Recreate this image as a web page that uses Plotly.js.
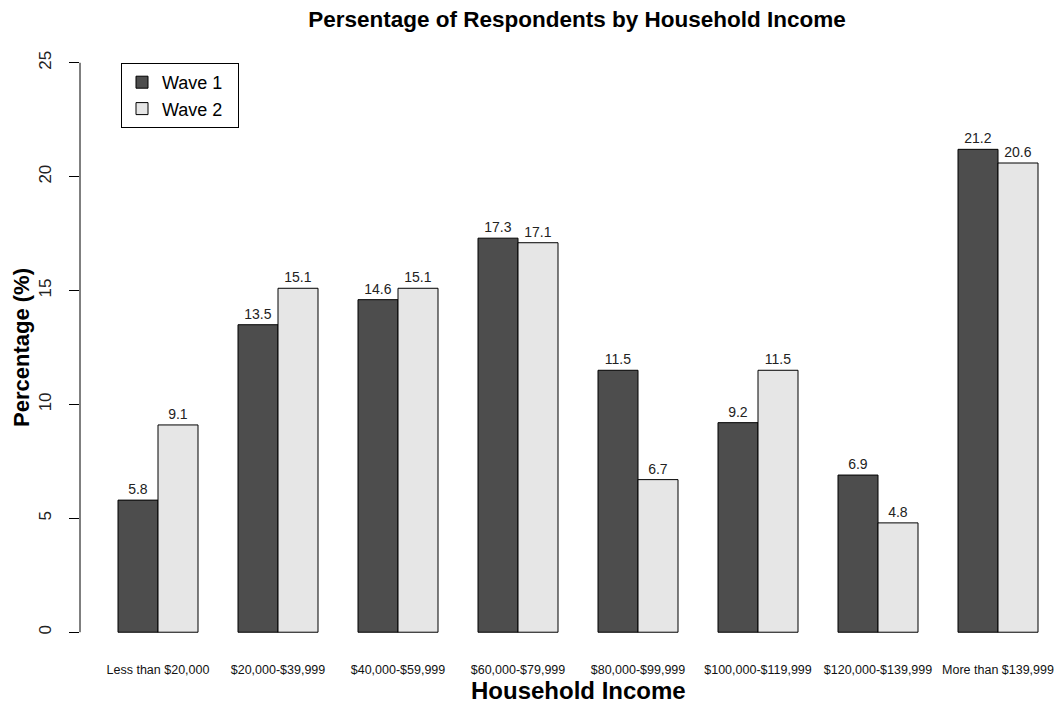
<!DOCTYPE html>
<html>
<head>
<meta charset="utf-8">
<script src="https://cdn.plot.ly/plotly-3.0.1.min.js"></script>
<style>html,body{margin:0;padding:0;background:#fff;}#chart{width:1055px;height:706px;}</style>
</head>
<body>
<div id="chart"></div>
<script>
const categories = ["Less than $20,000","$20,000-$39,999","$40,000-$59,999","$60,000-$79,999","$80,000-$99,999","$100,000-$119,999","$120,000-$139,999","More than $139,999"];
const wave1 = [5.8, 13.5, 14.6, 17.3, 11.5, 9.2, 6.9, 21.2];
const wave2 = [9.1, 15.1, 15.1, 17.1, 6.7, 11.5, 4.8, 20.6];
const yTicks = [0, 5, 10, 15, 20, 25];

const FONT = "Liberation Sans, Arial, sans-serif";

const traces = [
  {type:'bar', name:'Wave 1\u00a0\u00a0', x:categories, y:wave1,
   text:wave1.map(v=>v.toFixed(1)), textposition:'outside', cliponaxis:false,
   textfont:{family:FONT, size:14, color:'#222'},
   marker:{color:'#4d4d4d', line:{color:'#000', width:1}}, hoverinfo:'none'},
  {type:'bar', name:'Wave 2\u00a0\u00a0', x:categories, y:wave2,
   text:wave2.map(v=>v.toFixed(1)), textposition:'outside', cliponaxis:false,
   textfont:{family:FONT, size:14, color:'#222'},
   marker:{color:'#e6e6e6', line:{color:'#000', width:1}}, hoverinfo:'none'}
];

const layout = {
  width:1055, height:706,
  margin:{l:80, r:0, t:40, b:51},
  paper_bgcolor:'#fff', plot_bgcolor:'#fff',
  font:{family:FONT, color:'#000'},
  barmode:'group', bargap:1/3, bargroupgap:0,
  title:{text:'<b>Persentage of Respondents by Household Income</b>', font:{family:FONT, size:22.5, color:'#000'},
         x:577/1055, xref:'container', xanchor:'center', y:1-19/706, yref:'container', yanchor:'middle'},
  showlegend:true,
  legend:{x:(121-80)/975, y:(655-63)/615, xanchor:'left', yanchor:'top',
          bordercolor:'#000', borderwidth:1, bgcolor:'#fff',
          font:{family:FONT, size:18, color:'#000'}, traceorder:'normal'},
  xaxis:{type:'category', range:[-0.65, 7.475], showline:false, showgrid:false, zeroline:false,
         ticks:'', tickfont:{family:FONT, size:12.5, color:'#111'}, ticklabelstandoff:5},
  yaxis:{range:[-1, 26], tickvals:yTicks, ticktext:yTicks.map(String), showline:false, showgrid:false, zeroline:false,
         ticks:'outside', ticklen:10, tickcolor:'#000', tickwidth:1, tickangle:-90, ticklabelstandoff:11,
         tickfont:{family:FONT, size:17, color:'#222'},
         title:{text:'<b>Percentage (%)</b>', font:{family:FONT, size:22, color:'#000'}, standoff:0}},
  annotations:[{text:'<b>Household Income</b>', xref:'paper', yref:'paper', x:(578-80)/975, y:0,
                xanchor:'center', yanchor:'middle', yshift:-35, showarrow:false,
                font:{family:FONT, size:24, color:'#000'}}],
  shapes:[{type:'line', xref:'paper', yref:'y', x0:0, x1:0, y0:yTicks[0], y1:yTicks[yTicks.length-1], line:{color:'#000', width:1}}]
};

Plotly.newPlot('chart', traces, layout, {displayModeBar:false, staticPlot:true});
</script>
</body>
</html>
